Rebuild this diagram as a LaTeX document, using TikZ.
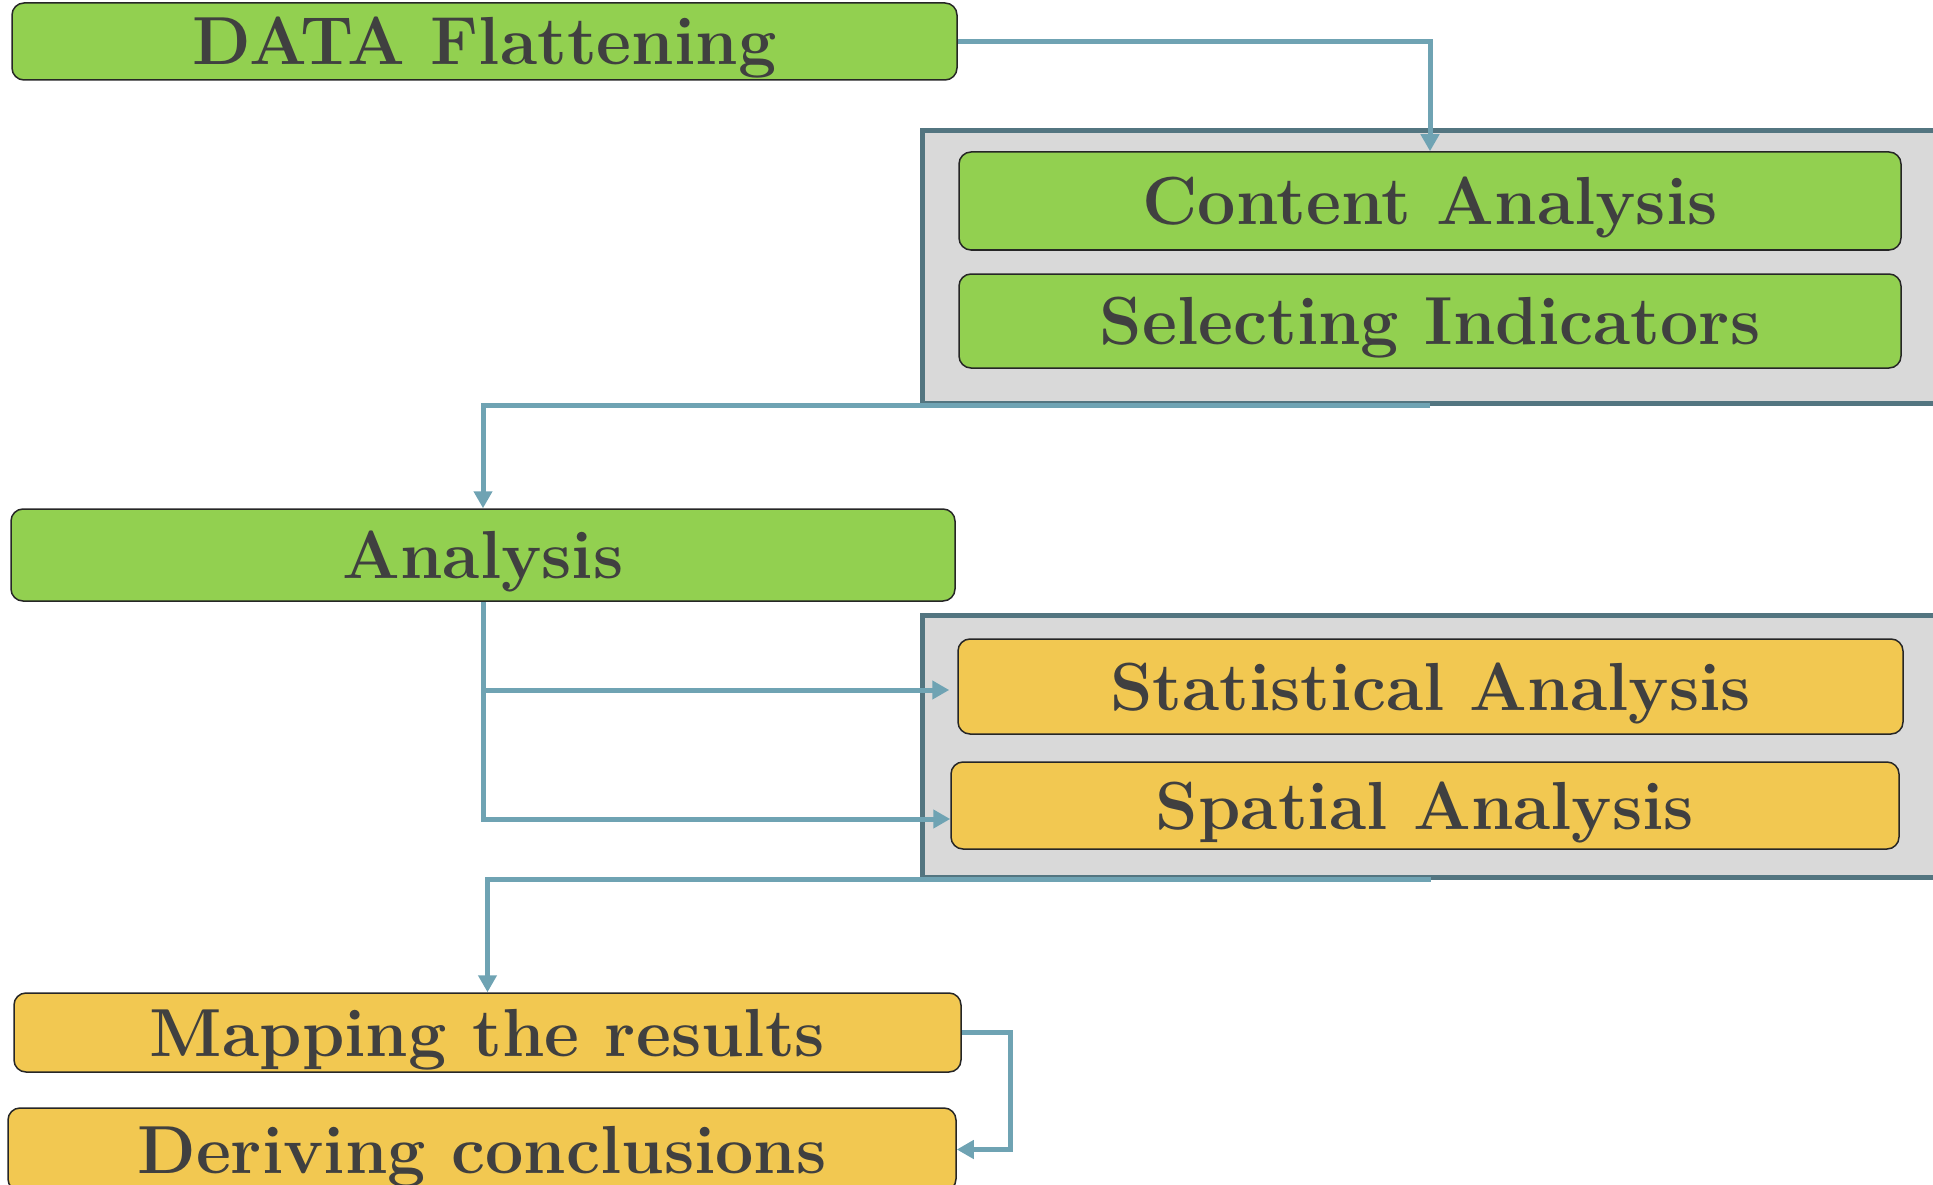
\documentclass[tikz,border=0pt]{standalone}
\usepackage{fontspec}
\usepackage{graphicx}
\usetikzlibrary{arrows.meta}
\definecolor{boxgreen}{HTML}{92D050}
\definecolor{boxyellow}{HTML}{F2C851}
\definecolor{conncol}{HTML}{6FA3B3}
\definecolor{grpborder}{HTML}{537580}
\definecolor{grpfill}{HTML}{D9D9D9}
\definecolor{txtcol}{HTML}{404040}
\newcommand{\lbl}[1]{#1}
\begin{document}
\begin{tikzpicture}[x=1pt,y=-1pt,
  stagebox/.style={draw=black!85, line width=1.5pt, rounded corners=12pt, inner sep=0pt,
    text height=47pt, text depth=0pt, font=\fontsize{68}{80}\selectfont\bfseries, text=txtcol},
  greenbox/.style={stagebox, fill=boxgreen},
  yellowbox/.style={stagebox, fill=boxyellow},
  grpbox/.style={draw=grpborder, fill=grpfill, line width=5pt, inner sep=0pt},
  conn/.style={draw=conncol, line width=5pt, -{Triangle[length=17pt,width=18pt]}},
  plainconn/.style={draw=conncol, line width=5pt}]
\useasboundingbox (0,0) rectangle (1933,1185);
% group containers
\node[grpbox, minimum width=1038pt, minimum height=272pt] (grp1) at (1441,267) {};
\node[grpbox, minimum width=1038pt, minimum height=262pt] (grp2) at (1441,746) {};
% boxes
\node[greenbox, minimum width=945pt, minimum height=77pt] (data) at (484.5,41.5) {\lbl{DATA Flattening}};
\node[greenbox, minimum width=942pt, minimum height=98pt] (content) at (1430,201) {\lbl{Content Analysis}};
\node[greenbox, minimum width=942pt, minimum height=94pt] (select) at (1430,321) {\lbl{Selecting Indicators}};
\node[greenbox, minimum width=944pt, minimum height=92pt] (analysis) at (483,555) {\lbl{Analysis}};
\node[yellowbox, minimum width=945pt, minimum height=95pt] (stat) at (1430.5,686.5) {\lbl{Statistical Analysis}};
\node[yellowbox, minimum width=948pt, minimum height=87pt] (spatial) at (1425,805.5) {\lbl{Spatial Analysis}};
\node[yellowbox, minimum width=947pt, minimum height=79pt] (mapping) at (487.5,1032.5) {\lbl{Mapping the results}};
\node[yellowbox, minimum width=948pt, minimum height=83pt] (deriving) at (482,1149.5) {\lbl{Deriving conclusions}};
% connector anchor points
\coordinate (stin) at ([yshift=-3.5pt]stat.west);
\coordinate (spin) at ([yshift=-13.5pt]spatial.west);
% connectors
\draw[conn] (data.east) -| (content.north);
\draw[conn] (content.south |- grp1.south) -| (analysis.north);
\draw[conn] (analysis.south) |- (spin);
\draw[conn, shorten >=8pt] (analysis.south |- stin) -- (stin);
\draw[conn] (stat.south |- grp2.south) -| (mapping.north);
\draw[conn] (mapping.east) -- ++(49,0) |- (deriving.east);
\end{tikzpicture}
\end{document}
